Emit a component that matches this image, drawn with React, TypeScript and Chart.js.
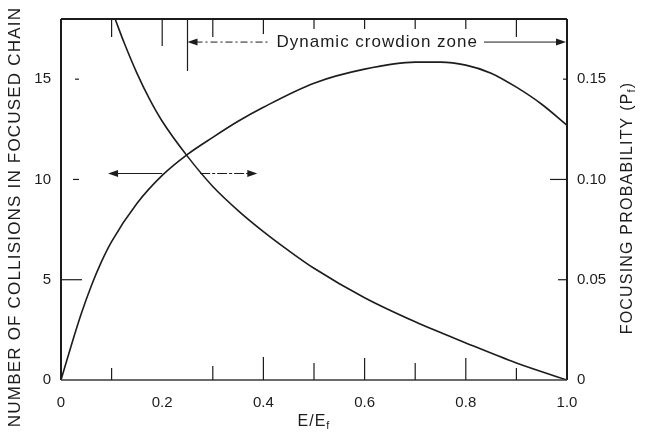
import { useEffect, useRef } from 'react';
import { Chart, registerables } from 'chart.js';

Chart.register(...registerables);

// Axis ticks and labels
const energyTicks = [0, 0.2, 0.4, 0.6, 0.8, 1.0];
const energyTickLabels = ['0', '0.2', '0.4', '0.6', '0.8', '1.0'];
const collisionTicks = [0, 5, 10, 15];
const collisionTickLabels = ['0', '5', '10', '15'];
const probabilityTicks = [0, 0.05, 0.1, 0.15];
const probabilityTickLabels = ['0', '0.05', '0.10', '0.15'];

// Number of collisions in a focused chain vs E/Ef (left axis)
const collisionEnergy = [0, 0.02, 0.04, 0.06, 0.08, 0.1, 0.15, 0.2, 0.25, 0.3, 0.35, 0.4, 0.5, 0.6, 0.7, 0.75, 0.8, 0.85, 0.9, 0.95, 1.0];
const collisionCount = [0, 1.7, 3.3, 4.7, 5.9, 6.9, 8.8, 10.2, 11.25, 12.1, 12.9, 13.6, 14.8, 15.5, 15.85, 15.85, 15.7, 15.3, 14.6, 13.75, 12.7];

// Focusing probability Pf vs E/Ef (right axis)
const probabilityEnergy = [0.107, 0.125, 0.15, 0.175, 0.2, 0.25, 0.3, 0.35, 0.4, 0.45, 0.5, 0.6, 0.7, 0.8, 0.9, 1.0];
const focusingProbability = [0.18, 0.168, 0.153, 0.14, 0.129, 0.1115, 0.0965, 0.0845, 0.074, 0.0645, 0.0557, 0.041, 0.029, 0.0185, 0.0085, 0];

// Ruler marks along the energy axis and the crowdion-zone threshold
const energyMarks = [0.1, 0.2, 0.3, 0.4, 0.5, 0.6, 0.7, 0.8, 0.9];
const crowdionThreshold = 0.25;
const zoneLabel = 'Dynamic crowdion zone';

// Level of the horizontal "which axis" arrows
const arrowLevel = 10.3;
const arrowLeftEnd = 0.093;
const arrowLeftStart = 0.2;
const arrowRightStart = 0.275;
const arrowRightEnd = 0.388;

const INK = '#1c1c1c';
const FONT = '"Liberation Sans", Arial, sans-serif';

type Run = { t: string; size: number; dy: number };

function drawRuns(ctx: CanvasRenderingContext2D, cx: number, cy: number, runs: Run[], angle: number, spacing: number) {
  ctx.save();
  ctx.translate(cx, cy);
  ctx.rotate(angle);
  (ctx as any).letterSpacing = spacing + 'px';
  ctx.textBaseline = 'middle';
  ctx.textAlign = 'left';
  ctx.fillStyle = INK;
  let total = 0;
  const widths = runs.map((r) => {
    ctx.font = `${r.size}px ${FONT}`;
    const w = ctx.measureText(r.t).width;
    total += w;
    return w;
  });
  let x = -total / 2;
  runs.forEach((r, i) => {
    ctx.font = `${r.size}px ${FONT}`;
    ctx.fillText(r.t, x, r.dy);
    x += widths[i];
  });
  ctx.restore();
}

function arrowHead(ctx: CanvasRenderingContext2D, x: number, y: number, dir: number) {
  ctx.beginPath();
  ctx.moveTo(x, y);
  ctx.lineTo(x - dir * 10, y - 3.5);
  ctx.lineTo(x - dir * 10, y + 3.5);
  ctx.closePath();
  ctx.fill();
}

function line(ctx: CanvasRenderingContext2D, x1: number, y1: number, x2: number, y2: number) {
  ctx.beginPath();
  ctx.moveTo(x1, y1);
  ctx.lineTo(x2, y2);
  ctx.stroke();
}

const topMarkLength: Record<string, number> = {
  '0.1': 18, '0.2': 27, '0.3': 18, '0.4': 15, '0.5': 10, '0.6': 10, '0.7': 10, '0.8': 10, '0.9': 18,
};
const bottomMarkLength: Record<string, number> = {
  '0.1': 12, '0.3': 14, '0.4': 23, '0.5': 17, '0.6': 22, '0.7': 17, '0.8': 22, '0.9': 12,
};

const decorPlugin = {
  id: 'decor',
  beforeDraw(chart: any) {
    const ctx = chart.ctx as CanvasRenderingContext2D;
    ctx.save();
    ctx.fillStyle = '#ffffff';
    ctx.fillRect(0, 0, chart.width, chart.height);
    ctx.restore();
  },
  afterDraw(chart: any) {
    const ctx = chart.ctx as CanvasRenderingContext2D;
    const { left, right, top, bottom } = chart.chartArea;
    const xs = chart.scales.x;
    const ys = chart.scales.y;
    ctx.save();
    ctx.strokeStyle = INK;
    ctx.fillStyle = INK;

    // frame
    ctx.lineWidth = 2;
    line(ctx, left, top, right, top);
    line(ctx, left, top, left, bottom);
    line(ctx, right, top, right, bottom);
    ctx.lineWidth = 1.5;
    ctx.strokeStyle = '#3a3a3a';
    line(ctx, left, bottom, right, bottom);

    // ruler marks on top and bottom edges
    ctx.strokeStyle = INK;
    ctx.lineWidth = 1.2;
    energyMarks.forEach((v) => {
      const px = xs.getPixelForValue(v);
      const key = v.toFixed(1);
      const tl = topMarkLength[key];
      if (tl) line(ctx, px, top, px, top + tl);
      const bl = bottomMarkLength[key];
      if (bl) line(ctx, px, bottom, px, bottom - bl);
    });

    // inner marks on the vertical axes
    const leftMarks: [number, number, number][] = [[5, 0, 21], [10, 12, 18], [15, 14, 18]];
    leftMarks.forEach(([v, a, b]) => {
      const py = ys.getPixelForValue(v);
      line(ctx, left + a, py, left + b, py);
    });
    const y1 = chart.scales.y1;
    const rightMarks: [number, number][] = [[0.05, 9], [0.1, 17], [0.15, 4]];
    rightMarks.forEach(([v, len]) => {
      const py = y1.getPixelForValue(v);
      line(ctx, right - len, py, right, py);
    });

    // crowdion zone bracket
    const tx = xs.getPixelForValue(crowdionThreshold);
    ctx.lineWidth = 1.2;
    line(ctx, tx, top, tx, top + 52);
    const zy = ys.getPixelForValue(16.85);
    ctx.font = `17px ${FONT}`;
    (ctx as any).letterSpacing = '1px';
    const tw = ctx.measureText(zoneLabel).width;
    const tcx = xs.getPixelForValue(0.625);
    ctx.textAlign = 'center';
    ctx.textBaseline = 'middle';
    ctx.fillText(zoneLabel, tcx, zy);
    (ctx as any).letterSpacing = '0px';
    ctx.lineWidth = 1;
    ctx.setLineDash([7, 3, 2, 3]);
    line(ctx, tx + 8, zy, tcx - tw / 2 - 6, zy);
    ctx.setLineDash([]);
    line(ctx, tcx + tw / 2 + 6, zy, right - 8, zy);
    arrowHead(ctx, tx, zy, -1);
    arrowHead(ctx, right - 1, zy, 1);

    // arrows telling which curve belongs to which axis
    const ay = ys.getPixelForValue(arrowLevel);
    const l0 = xs.getPixelForValue(arrowLeftStart);
    const l1 = xs.getPixelForValue(arrowLeftEnd);
    const r0 = xs.getPixelForValue(arrowRightStart);
    const r1 = xs.getPixelForValue(arrowRightEnd);
    ctx.lineWidth = 1.1;
    line(ctx, l0, ay, l1 + 6, ay);
    arrowHead(ctx, l1, ay, -1);
    ctx.setLineDash([10, 2, 3, 2]);
    line(ctx, r0, ay, r1 - 6, ay);
    ctx.setLineDash([]);
    arrowHead(ctx, r1, ay, 1);
    ctx.restore();

    // axis titles
    drawRuns(ctx, 15, 217, [{ t: 'NUMBER OF COLLISIONS IN FOCUSED CHAIN', size: 17, dy: 0 }], -Math.PI / 2, 1.2);
    drawRuns(
      ctx,
      628,
      208,
      [
        { t: 'FOCUSING PROBABILITY (P', size: 16, dy: 0 },
        { t: 'f', size: 11, dy: 4 },
        { t: ')', size: 16, dy: 0 },
      ],
      -Math.PI / 2,
      1.2,
    );
    drawRuns(
      ctx,
      (left + right) / 2,
      422,
      [
        { t: 'E/E', size: 16, dy: 0 },
        { t: 'f', size: 11, dy: 4 },
      ],
      0,
      1,
    );
  },
};

export default function App() {
  const canvasRef = useRef<HTMLCanvasElement | null>(null);

  useEffect(() => {
    document.body.style.margin = '0';
    const canvas = canvasRef.current;
    if (!canvas) return;
    const tickFont = { family: FONT, size: 15 };
    const chart = new Chart(canvas, {
      type: 'line',
      data: {
        datasets: [
          {
            label: 'Number of collisions',
            data: collisionEnergy.map((x, i) => ({ x, y: collisionCount[i] })),
            yAxisID: 'y',
            borderColor: INK,
            borderWidth: 1.6,
            pointRadius: 0,
            cubicInterpolationMode: 'monotone',
            fill: false,
          },
          {
            label: 'Focusing probability',
            data: probabilityEnergy.map((x, i) => ({ x, y: focusingProbability[i] })),
            yAxisID: 'y1',
            borderColor: INK,
            borderWidth: 1.6,
            pointRadius: 0,
            cubicInterpolationMode: 'monotone',
            fill: false,
          },
        ],
      },
      options: {
        responsive: false,
        animation: false,
        layout: { padding: { top: 15, left: 0, right: 0, bottom: 0 } },
        plugins: { legend: { display: false }, tooltip: { enabled: false } },
        scales: {
          x: {
            type: 'linear',
            min: 0,
            max: 1,
            grid: { display: false, drawTicks: false },
            border: { display: false },
            afterBuildTicks: (s: any) => {
              s.ticks = energyTicks.map((value) => ({ value }));
            },
            afterFit: (s: any) => {
              s.height = 52;
            },
            ticks: {
              padding: 14,
              color: INK,
              font: tickFont,
              maxRotation: 0,
              autoSkip: false,
              callback: (_v: any, i: number) => energyTickLabels[i],
            },
          },
          y: {
            type: 'linear',
            position: 'left',
            min: 0,
            max: 18,
            grid: { display: false, drawTicks: false },
            border: { display: false },
            afterBuildTicks: (s: any) => {
              s.ticks = collisionTicks.map((value) => ({ value }));
            },
            afterFit: (s: any) => {
              s.width = 61;
            },
            ticks: {
              padding: 10,
              color: INK,
              font: tickFont,
              autoSkip: false,
              callback: (_v: any, i: number) => collisionTickLabels[i],
            },
          },
          y1: {
            type: 'linear',
            position: 'right',
            min: 0,
            max: 0.18,
            grid: { display: false, drawTicks: false },
            border: { display: false },
            afterBuildTicks: (s: any) => {
              s.ticks = probabilityTicks.map((value) => ({ value }));
            },
            afterFit: (s: any) => {
              s.width = 83;
            },
            ticks: {
              padding: 10,
              color: INK,
              font: tickFont,
              autoSkip: false,
              callback: (_v: any, i: number) => probabilityTickLabels[i],
            },
          },
        },
      },
      plugins: [decorPlugin],
    } as any);
    return () => chart.destroy();
  }, []);

  return (
    <div style={{ position: 'fixed', left: 0, top: 0, width: 650, height: 432, background: '#fff' }}>
      <canvas ref={canvasRef} width={650} height={432} style={{ display: 'block', width: 650, height: 432 }} />
    </div>
  );
}
